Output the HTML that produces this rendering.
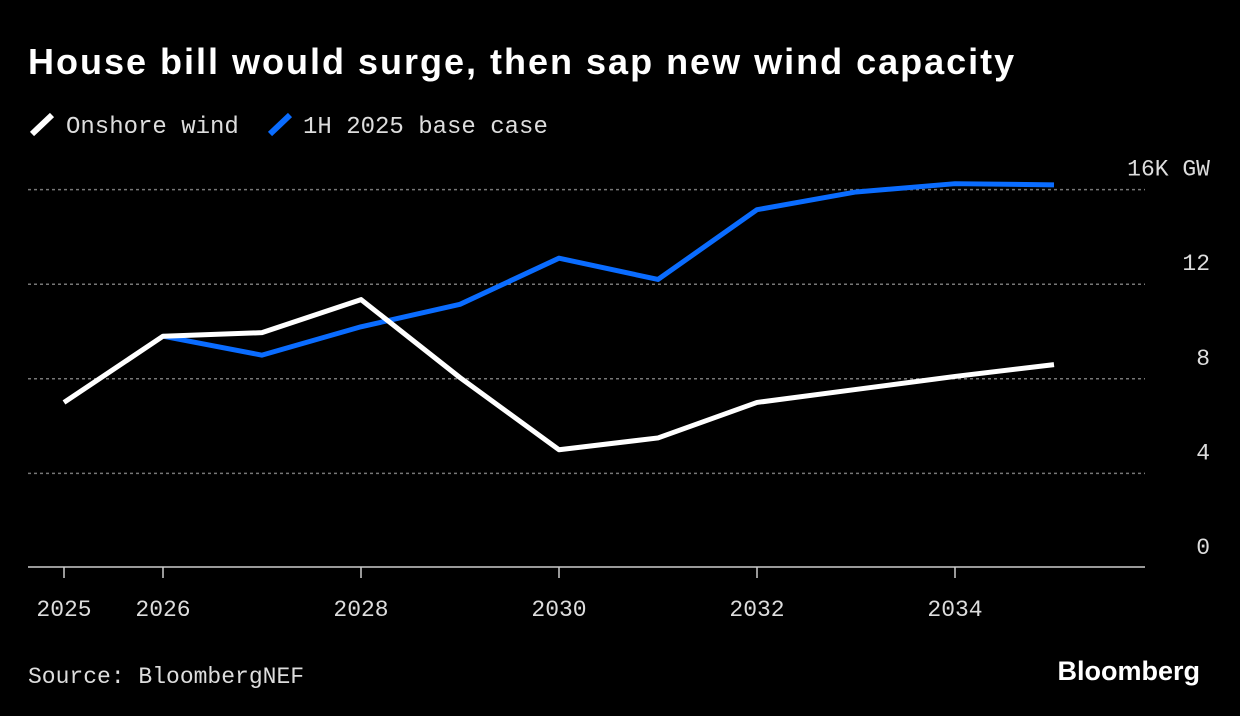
<!DOCTYPE html>
<html><head><meta charset="utf-8"><style>
body{margin:0;background:#000;width:1240px;height:716px;overflow:hidden}
svg{display:block}
.m{font-family:"Liberation Mono",monospace;font-size:23px;fill:#ddd}
.lg{font-family:"Liberation Mono",monospace;font-size:24px;fill:#ddd}
</style></head><body>
<svg id="c" width="1240" height="716">
<text x="28" y="74" font-family="Liberation Sans,sans-serif" font-weight="bold" font-size="36" letter-spacing="2" fill="#fff">House bill would surge, then sap new wind capacity</text>
<g>
<line x1="32" y1="134" x2="52" y2="115" stroke="#fff" stroke-width="6"/>
<text class="lg" x="66" y="133">Onshore wind</text>
<line x1="270" y1="134" x2="290" y2="115" stroke="#0a6cff" stroke-width="6"/>
<text class="lg" x="303" y="133">1H 2025 base case</text>
</g>
<g id="grid"></g><g id="axes"></g><g id="series"></g>
<text class="m" x="28" y="683">Source: BloombergNEF</text>
<text x="1200" y="680" text-anchor="end" font-family="Liberation Sans,sans-serif" font-weight="bold" font-size="27" fill="#fff">Bloomberg</text>
</svg>
<script>
const years=[2025,2026,2027,2028,2029,2030,2031,2032,2033,2034,2035];
const onshore=[7.0,9.8,9.95,11.35,8.05,5.0,5.5,7.0,7.55,8.1,8.6];
const baseYears=[2026,2027,2028,2029,2030,2031,2032,2033,2034,2035];
const baseCase=[9.8,9.0,10.2,11.15,13.1,12.2,15.15,15.9,16.25,16.2];
const yTicks=[0,4,8,12,16];
const yTickLabels=["0","4","8","12","16K GW"];
const xTicks=[2025,2026,2028,2030,2032,2034];
const NS="http://www.w3.org/2000/svg";
const X=y=>64+(y-2025)*99;
const Y=v=>568-v*23.65;
function mk(t,a,p){const e=document.createElementNS(NS,t);for(const k in a)e.setAttribute(k,a[k]);document.getElementById(p).appendChild(e);return e;}
yTicks.forEach((v,i)=>{
 if(v>0){const g=mk('line',{x1:28,x2:1145,y1:Y(v),y2:Y(v),stroke:'#777','stroke-width':1.5,'stroke-dasharray':'3 3'},'grid');
 
 }
 const t=mk('text',{x:1210,y:Y(v)-14,'text-anchor':'end',class:'m'},'grid');t.textContent=yTickLabels[i];
 
 
});
const ax=mk('line',{x1:28,x2:1145,y1:567,y2:567,stroke:'#ccc','stroke-width':1.5},'axes');


xTicks.forEach(y=>{
 const l=mk('line',{x1:X(y),x2:X(y),y1:567,y2:578,stroke:'#ccc','stroke-width':1.5},'axes');
 
 
 const t=mk('text',{x:X(y),y:616,'text-anchor':'middle',class:'m'},'axes');t.textContent=y;
 
 
});
const p2=mk('polyline',{points:baseYears.map((y,i)=>X(y)+','+Y(baseCase[i])).join(' '),fill:'none',stroke:'#0a6cff','stroke-width':5,'stroke-linejoin':'round'},'series');


const p1=mk('polyline',{points:years.map((y,i)=>X(y)+','+Y(onshore[i])).join(' '),fill:'none',stroke:'#fff','stroke-width':5,'stroke-linejoin':'round'},'series');


</script>
</body></html>
